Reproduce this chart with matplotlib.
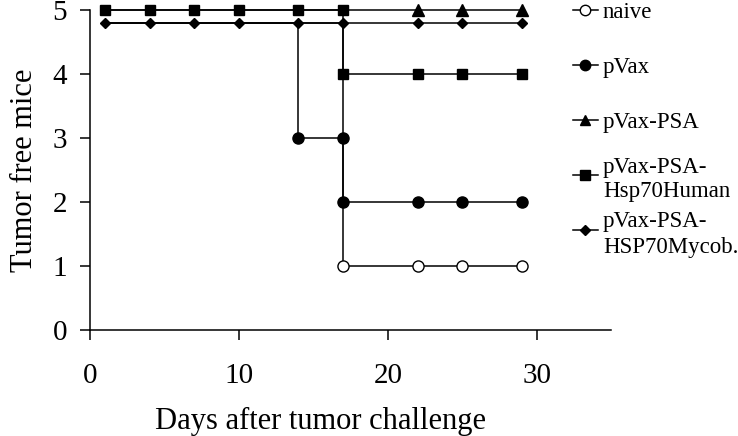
import matplotlib
matplotlib.use("Agg")
import matplotlib.pyplot as plt
from matplotlib.lines import Line2D

plt.rcParams['font.family'] = ['Liberation Serif', 'DejaVu Serif']

# data (4.8 = offset copy of 5 so lines don't overlap)
days_naive = [1, 4, 7, 10, 14, 17, 17, 22, 25, 29]
naive = [4.8, 4.8, 4.8, 4.8, 4.8, 4.8, 1, 1, 1, 1]
days_pvax = [1, 4, 7, 10, 14, 14, 17, 17, 22, 25, 29]
pvax = [4.8, 4.8, 4.8, 4.8, 4.8, 3, 3, 2, 2, 2, 2]
days_psa = [1, 4, 7, 10, 14, 17, 22, 25, 29]
psa = [5, 5, 5, 5, 5, 5, 5, 5, 5]
days_human = [1, 4, 7, 10, 14, 17, 17, 22, 25, 29]
human = [5, 5, 5, 5, 5, 5, 4, 4, 4, 4]
days_mycob = [1, 4, 7, 10, 14, 17, 22, 25, 29]
mycob = [4.8, 4.8, 4.8, 4.8, 4.8, 4.8, 4.8, 4.8, 4.8]

labels = ['naive', 'pVax', 'pVax-PSA', 'pVax-PSA-\nHsp70Human', 'pVax-PSA-\nHSP70Mycob.']

fig = plt.figure(figsize=(7.38, 4.36), dpi=100)
ax = fig.add_axes([0.122, 0.243, 0.706, 0.734])

lw = 1.1
# markers hidden under diamonds are skipped
ax.plot(days_naive, naive, color='k', lw=lw, marker='o', ms=8, mfc='white', mec='k',
        markevery=[6, 7, 8, 9], clip_on=False, zorder=2)
ax.plot(days_pvax, pvax, color='k', lw=lw, marker='o', ms=8, mfc='k', mec='k',
        markevery=list(range(5, 11)), clip_on=False, zorder=2)
ax.plot(days_psa, psa, color='k', lw=lw, marker='^', ms=8, mfc='k', mec='k',
        markevery=[6, 7, 8], clip_on=False, zorder=3)
ax.plot(days_human, human, color='k', lw=lw, marker='s', ms=7.5, mfc='k', mec='k',
        clip_on=False, zorder=4)
ax.plot(days_mycob, mycob, color='k', lw=lw, marker='D', ms=5.5, mfc='k', mec='k',
        clip_on=False, zorder=5)

ax.set_xlim(0, 35)
ax.set_ylim(0, 5)
ax.set_xticks([0, 10, 20, 30])
ax.set_yticks([0, 1, 2, 3, 4, 5])
for s in ['top', 'right']:
    ax.spines[s].set_visible(False)
for s in ['left', 'bottom']:
    ax.spines[s].set_linewidth(1.1)
ax.tick_params(axis='x', direction='out', length=7.5, width=1.1, pad=16, labelsize=21)
ax.tick_params(axis='y', direction='out', length=7.5, width=1.1, pad=9, labelsize=21)
ax.set_xlabel('Days after tumor challenge', fontsize=22)
ax.xaxis.set_label_coords(0.443, -0.24)
ax.set_ylabel('Tumor free mice', fontsize=22, labelpad=10)

# legend drawn by hand (handle sits on first line of two-line labels)
styles = [('o', 'white', 7.5), ('o', 'k', 7.5), ('^', 'k', 7.5), ('s', 'k', 7), ('D', 'k', 5.5)]
leg_y = [10, 65, 120, 175, 230]
for (m, fc, ms), lab, py in zip(styles, labels, leg_y):
    yf = 1 - py / 436
    fig.add_artist(Line2D([573 / 738, 598 / 738], [yf, yf], color='k', lw=lw,
                          transform=fig.transFigure))
    fig.add_artist(Line2D([585 / 738], [yf], marker=m, ms=ms, mfc=fc, mec='k',
                          color='k', transform=fig.transFigure))
    fig.text(603 / 738, yf, lab, fontsize=16.5, va='center_baseline',
             ha='left', linespacing=1.25)

fig.savefig('out.png', dpi=100)
